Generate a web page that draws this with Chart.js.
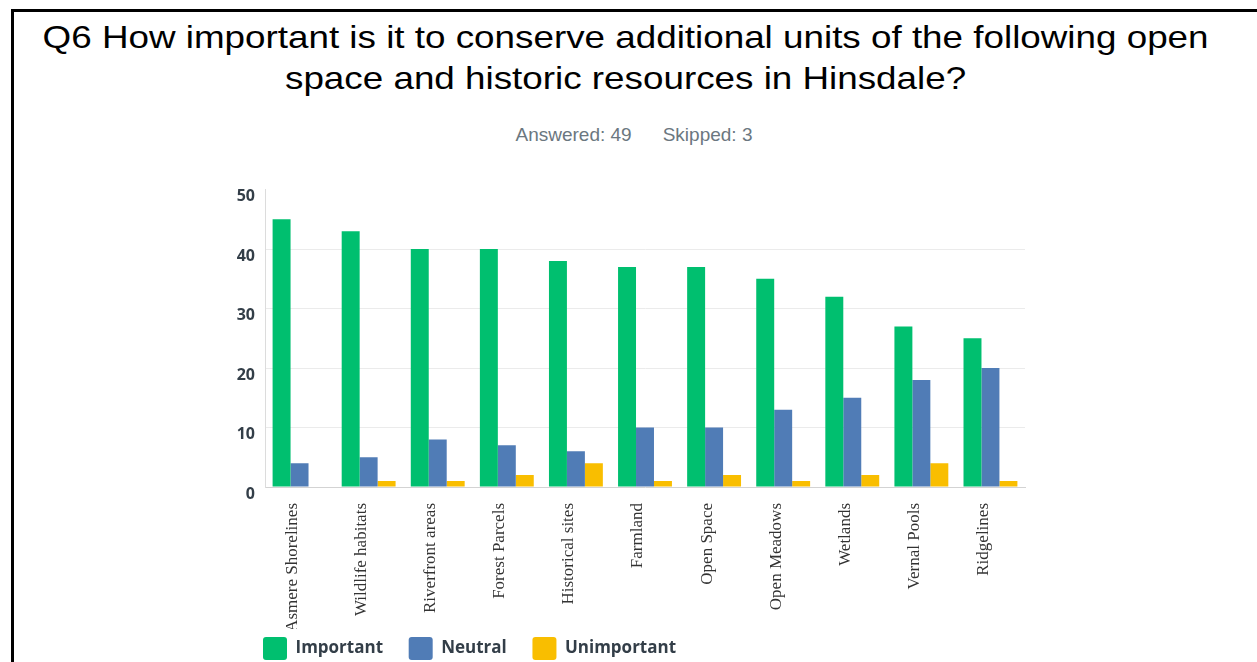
<!DOCTYPE html>
<html>
<head>
<meta charset="utf-8">
<script src="https://cdn.jsdelivr.net/npm/chart.js@4/dist/chart.umd.min.js"></script>
<style>
html,body{margin:0;padding:0;width:1257px;height:662px;overflow:hidden;background:#fff;}
#frame{position:absolute;left:11px;top:9px;width:1300px;height:720px;border-left:3px solid #000;border-top:3px solid #000;box-sizing:border-box;}
#title{position:absolute;left:0;top:17px;width:1251px;text-align:center;font-family:"Liberation Sans",Arial,sans-serif;font-size:32px;line-height:41px;color:#000;transform:scaleX(1.15);transform-origin:625px 0;}
#sub{position:absolute;left:0;top:124px;width:1268px;text-align:center;font-family:"Liberation Sans",Arial,sans-serif;font-size:19px;color:#6b7780;white-space:pre;}
#sub span+span{margin-left:31px;}
#wrap{position:absolute;left:200px;top:170px;width:840px;height:500px;}
</style>
</head>
<body>
<div id="frame"></div>
<div id="title">Q6 How important is it to conserve additional units of the following open<br>space and historic resources in Hinsdale?</div>
<div id="sub"><span>Answered: 49</span><span>Skipped: 3</span></div>
<div id="wrap"><canvas id="c" width="840" height="500"></canvas></div>
<script>
const categories = ["Asmere Shorelines","Wildlife habitats","Riverfront areas","Forest Parcels","Historical sites","Farmland","Open Space","Open Meadows","Wetlands","Vernal Pools","Ridgelines"];
const important   = [45,43,40,40,38,37,37,35,32,27,25];
const neutral     = [4,5,8,7,6,10,10,13,15,18,20];
const unimportant = [0,1,1,2,4,1,2,1,2,4,1];
const seriesNames = ["Important","Neutral","Unimportant"];
const yMin = 0, yMax = 50, yStep = 10;

// nudges the bottom legend right so it starts under the y-axis like the reference
const legendShift = {
  id: 'legendShift',
  afterLayout(chart) {
    if (chart.legend) { chart.legend.left += 19; chart.legend.right += 19; }
  }
};

new Chart(document.getElementById('c'), {
  type: 'bar',
  data: {
    labels: categories,
    datasets: [
      {label: seriesNames[0], data: important, backgroundColor: '#00bf6f'},
      {label: seriesNames[1], data: neutral, backgroundColor: '#507cb6'},
      {label: seriesNames[2], data: unimportant, backgroundColor: '#f9be00'}
    ]
  },
  plugins: [legendShift],
  options: {
    responsive: false,
    animation: false,
    devicePixelRatio: 1,
    datasets: {bar: {categoryPercentage: 0.78, barPercentage: 1.0, borderWidth: 0}},
    layout: {padding: {left: 36, top: 12, right: 15, bottom: 0}},
    plugins: {
      title: {display: false},
      tooltip: {enabled: false},
      legend: {
        position: 'bottom',
        align: 'start',
        labels: {
          boxWidth: 24, boxHeight: 23, padding: 8,
          useBorderRadius: true, borderRadius: 3,
          color: '#333e48',
          font: {family: '"Open Sans", sans-serif', size: 17, weight: 'bold'},
          generateLabels(chart) {
            const items = Chart.defaults.plugins.legend.labels.generateLabels(chart);
            items.forEach((it, i) => { if (i < items.length - 1) it.text = it.text + '    '; });
            return items;
          }
        }
      }
    },
    scales: {
      x: {
        grid: {display: false},
        border: {display: true, color: '#d3d3d3', width: 1},
        ticks: {
          autoSkip: false, minRotation: 90, maxRotation: 90,
          padding: 8, labelOffset: -7,
          color: '#333333',
          font: {family: '"Liberation Serif", "Times New Roman", serif', size: 17}
        },
        afterFit(s) { s.height = 142; }
      },
      y: {
        min: yMin, max: yMax,
        ticks: {
          stepSize: yStep, padding: 10, labelOffset: 7,
          color: '#333e48',
          font: {family: '"Open Sans", sans-serif', size: 16, weight: 'bold'}
        },
        grid: {
          drawTicks: false,
          color: (c) => (c.tick && (c.tick.value === yMin || c.tick.value === yMax)) ? 'rgba(0,0,0,0)' : '#ebebeb'
        },
        border: {display: true, color: '#dcdcdc', width: 1},
        afterFit(s) { s.width = 29; }
      }
    }
  }
});
</script>
</body>
</html>
